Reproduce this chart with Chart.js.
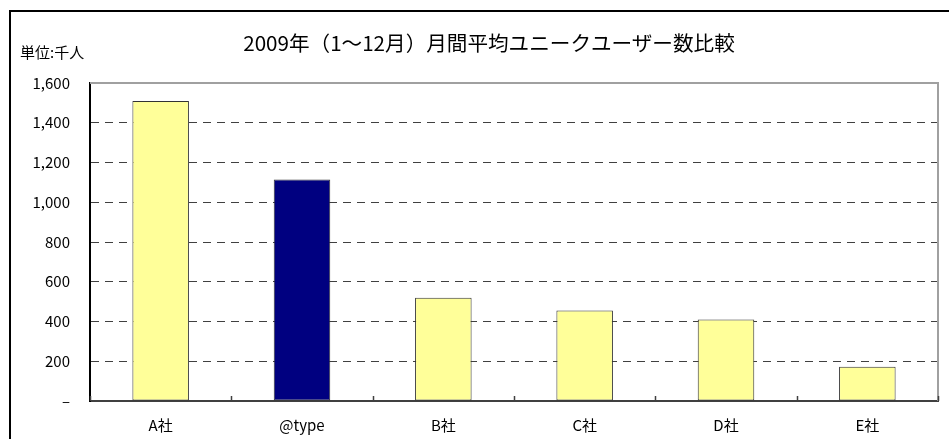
<!DOCTYPE html>
<html>
<head>
<meta charset="utf-8">
<script src="https://cdn.jsdelivr.net/npm/chart.js@4.4.1/dist/chart.umd.min.js"></script>
<style>
  html, body { margin: 0; padding: 0; background: #fff; overflow: hidden; width: 949px; height: 439px; }
  #frame { position: absolute; left: 9px; top: 10px; width: 938px; height: 427px; border-top: 2px solid #000; border-left: 2px solid #000; background: #fff; overflow: hidden; }
  #wrap { position: absolute; left: 0; top: 0; width: 956px; height: 427px; }
  #title { position: absolute; left: 0; top: 18px; width: 956px; text-align: center; font-family: "Noto Sans CJK JP", sans-serif; font-size: 20.6px; line-height: 24px; color: #000; white-space: nowrap; }
  #unit { position: absolute; left: 9px; top: 30px; font-family: "Noto Sans CJK JP", sans-serif; font-size: 15px; line-height: 20px; color: #000; white-space: nowrap; }
</style>
</head>
<body>
<div id="frame">
  <div id="wrap"><canvas id="c"></canvas></div>
  <div id="title"></div>
  <div id="unit"></div>
</div>
<script>
const titleText = "2009年（1～12月）月間平均ユニークユーザー数比較";
const unitLabel = "単位:千人";
const categories = ["A社", "@type", "B社", "C社", "D社", "E社"];
const visitors = [1510, 1115, 520, 455, 410, 172];
const barColors = ["#FFFF99", "#000080", "#FFFF99", "#FFFF99", "#FFFF99", "#FFFF99"];
const yTicks = [0, 200, 400, 600, 800, 1000, 1200, 1400, 1600];

document.getElementById('title').textContent = titleText;
document.getElementById('unit').textContent = unitLabel;

const FONT = '"Noto Sans CJK JP", "Noto Sans", sans-serif';

const framePlugin = {
  id: 'framePlugin',
  afterDatasetsDraw(chart) {
    const { ctx, chartArea: a, scales } = chart;
    ctx.save();
    ctx.strokeStyle = '#a0a0a0';
    ctx.lineWidth = 2;
    ctx.beginPath();
    ctx.moveTo(a.left, a.top);
    ctx.lineTo(a.right, a.top);
    ctx.lineTo(a.right, a.bottom);
    ctx.stroke();
    const xs = scales.x;
    const n = categories.length;
    const step = (xs.getPixelForValue(1) - xs.getPixelForValue(0));
    ctx.strokeStyle = '#404040';
    ctx.lineWidth = 1.5;
    ctx.beginPath();
    for (let i = 0; i <= n; i++) {
      const x = Math.round(xs.getPixelForValue(0) - step / 2 + i * step) + 0.5;
      ctx.moveTo(x, a.bottom);
      ctx.lineTo(x, a.bottom - 5);
    }
    ctx.stroke();
    ctx.restore();
  }
};

new Chart(document.getElementById('c'), {
  type: 'bar',
  data: {
    labels: categories,
    datasets: [{
      data: visitors,
      backgroundColor: barColors,
      borderColor: '#333333',
      borderWidth: 1,
      borderSkipped: false,
      barPercentage: 0.4,
      categoryPercentage: 1.0
    }]
  },
  options: {
    responsive: true,
    maintainAspectRatio: false,
    animation: false,
    layout: { padding: { left: 0, right: 29, top: 71, bottom: 0 } },
    plugins: {
      legend: { display: false },
      tooltip: { enabled: false },
      title: { display: false }
    },
    scales: {
      x: {
        offset: true,
        grid: { display: false, drawTicks: false },
        border: { display: true, color: '#404040', width: 2 },
        ticks: { color: '#000', font: { family: FONT, size: 15 }, padding: 15, maxRotation: 0 },
        afterFit(s) { s.height = 38; }
      },
      y: {
        min: 0,
        max: 1600,
        afterBuildTicks(s) { s.ticks = yTicks.map(v => ({ value: v })); },
        grid: {
          drawTicks: false,
          color: (c) => (c.tick && (c.tick.value === 0 || c.tick.value === 1600)) ? 'rgba(0,0,0,0)' : '#404040',
          lineWidth: 1
        },
        border: { display: true, color: '#000', width: 2, dash: [8, 6] },
        ticks: {
          color: '#000',
          font: { family: FONT, size: 15 },
          padding: 20,
          callback: (v) => v === 0 ? '–' : v.toLocaleString('en-US')
        },
        afterFit(s) { s.width = 79; }
      }
    }
  },
  plugins: [framePlugin]
});
</script>
</body>
</html>
